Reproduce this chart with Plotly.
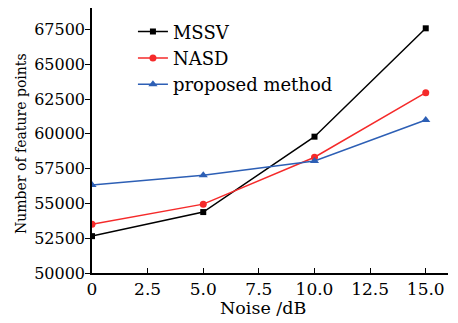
import plotly.graph_objects as go

noise = [0, 5, 10, 15]
mssv = [52650, 54380, 59800, 67590]
nasd = [53500, 54950, 58320, 62960]
proposed = [56320, 57030, 58050, 61000]

x_ticks = [0, 2.5, 5, 7.5, 10, 12.5, 15]
x_tick_labels = ["0", "2.5", "5.0", "7.5", "10.0", "12.5", "15.0"]
y_ticks = [50000, 52500, 55000, 57500, 60000, 62500, 65000, 67500]
y_tick_labels = [str(v) for v in y_ticks]

font = "DejaVu Serif"

fig = go.Figure()
fig.add_trace(go.Scatter(x=noise, y=mssv, name="MSSV", mode="lines+markers",
                         line=dict(color="black", width=1.5),
                         marker=dict(symbol="square", size=6, color="black")))
fig.add_trace(go.Scatter(x=noise, y=nasd, name="NASD", mode="lines+markers",
                         line=dict(color="#f52a2a", width=1.5),
                         marker=dict(symbol="circle", size=7, color="#f52a2a")))
fig.add_trace(go.Scatter(x=noise, y=proposed, name="proposed method", mode="lines+markers",
                         line=dict(color="#2d5fb5", width=1.5),
                         marker=dict(symbol="triangle-up", size=8, color="#2d5fb5")))

fig.update_layout(
    width=450, height=315,
    margin=dict(l=84, r=10, t=0, b=50),
    paper_bgcolor="white", plot_bgcolor="white",
    font=dict(family=font, size=17, color="black"),
    showlegend=True,
    legend=dict(x=0.115, y=0.98, xanchor="left", yanchor="top",
                bgcolor="rgba(0,0,0,0)", font=dict(size=18),
                tracegroupgap=0, itemwidth=30),
    xaxis=dict(range=[0, 16], tickvals=x_ticks, ticktext=x_tick_labels,
               showline=True, linecolor="black", linewidth=1.5,
               ticks="inside", ticklen=5, tickcolor="black", showgrid=False,
               zeroline=False, automargin=False, tickfont=dict(size=17)),
    yaxis=dict(range=[50000, 69050], tickvals=y_ticks, ticktext=y_tick_labels,
               showline=True, linecolor="black", linewidth=1.5,
               ticks="outside", ticklen=5, tickcolor="black", showgrid=False,
               zeroline=False, automargin=False, tickfont=dict(size=16),
               ticklabelstandoff=-3),
    annotations=[
        dict(text="Noise /dB", xref="paper", yref="paper", x=0.48, y=-0.132,
             xanchor="center", yanchor="middle", showarrow=False,
             font=dict(size=17.5)),
        dict(text="Number of feature points", xref="paper", yref="paper",
             x=-0.2, y=0.49, xanchor="center", yanchor="middle", showarrow=False,
             textangle=-90, font=dict(size=14)),
    ],
)

fig.write_html("out.html")
